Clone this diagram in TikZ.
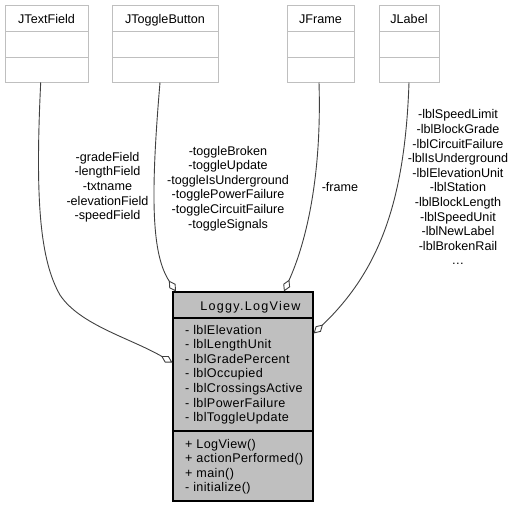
\documentclass[tikz,border=0pt]{standalone}
\usepackage{fontspec}
\setmainfont{Liberation Sans}
\newfontfamily\titlefont[LetterSpace=10]{Liberation Sans}
\newfontfamily\memberfont[LetterSpace=3]{Liberation Sans}
\usetikzlibrary{arrows.meta}
\definecolor{boxgray}{HTML}{BFBFBF}
\definecolor{edgegray}{HTML}{404040}
\begin{document}
\begin{tikzpicture}[x=1pt,y=-1pt,
  font=\fontsize{12.6}{14.6}\selectfont,
  basebox/.style={draw=boxgray, fill=white, line width=1pt, inner sep=0pt},
  mainbox/.style={draw=black, fill=boxgray, line width=1.2pt, inner sep=0pt},
  txt/.style={inner sep=0pt, anchor=base},
  ltxt/.style={inner sep=0pt, anchor=base west, align=left, font=\memberfont\fontsize{12.6}{14.6}\selectfont},
  ctxt/.style={inner sep=0pt, anchor=base, align=center},
  agg/.style={draw=edgegray, line width=0.9pt, -{Diamond[fill=white,length=13pt,width=7.5pt]}}
]
\useasboundingbox (0,0) rectangle (515,507);
\fill[white] (0,0) rectangle (515,507);

% base classes
\node[basebox, minimum width=83pt, minimum height=26.5pt] (tfa) at (46.5,18.25) {};
\node[basebox, minimum width=83pt, minimum height=25.5pt] (tfb) at (46.5,44.25) {};
\node[basebox, minimum width=83pt, minimum height=25pt] (tfc) at (46.5,69.5) {};
\node[txt] (tft) at (46.5,23) {JTextField};

\node[basebox, minimum width=106pt, minimum height=26.5pt] (tba) at (165,18.25) {};
\node[basebox, minimum width=106pt, minimum height=25.5pt] (tbb) at (165,44.25) {};
\node[basebox, minimum width=106pt, minimum height=25pt] (tbc) at (165,69.5) {};
\node[txt] (tbt) at (165,23) {JToggleButton};

\node[basebox, minimum width=67pt, minimum height=26.5pt] (jfa) at (320.5,18.25) {};
\node[basebox, minimum width=67pt, minimum height=25.5pt] (jfb) at (320.5,44.25) {};
\node[basebox, minimum width=67pt, minimum height=25pt] (jfc) at (320.5,69.5) {};
\node[txt] (jft) at (320.5,23) {JFrame};

\node[basebox, minimum width=60pt, minimum height=26.5pt] (jla) at (409,18.25) {};
\node[basebox, minimum width=60pt, minimum height=25.5pt] (jlb) at (409,44.25) {};
\node[basebox, minimum width=60pt, minimum height=25pt] (jlc) at (409,69.5) {};
\node[txt] (jlt) at (409,23) {JLabel};

% main class
\node[mainbox, minimum width=140pt, minimum height=26pt] (mt) at (243,305) {};
\node[mainbox, minimum width=140pt, minimum height=113pt] (ma) at (243,374.5) {};
\node[mainbox, minimum width=140pt, minimum height=70pt] (mm) at (243,466) {};
\node[txt, font=\titlefont\fontsize{12.6}{14.6}\selectfont] (mtt) at (250.5,310) {Loggy.LogView};
\node[ltxt] (mat) at (185,421.6) {- lblElevation\\- lblLengthUnit\\- lblGradePercent\\- lblOccupied\\- lblCrossingsActive\\- lblPowerFailure\\- lblToggleUpdate};
\node[ltxt] (mmt) at (185,491.8) {+ LogView()\\+ actionPerformed()\\+ main()\\- initialize()};

% edges
\draw[agg] ([xshift=-5.8pt]tfc.south) .. controls (35,200) and (40,260) .. (60,295)
  .. controls (80,325) and (130,338) .. ([yshift=12pt]ma.west);
\draw[agg] ([xshift=-5pt]tbc.south) .. controls (150,200) and (152,255) .. ([xshift=-67pt]mt.north);
\draw[agg] ([xshift=-1.5pt]jfc.south) .. controls (322,180) and (305,245) .. ([xshift=41pt]mt.north);
\draw[agg] (jlc.south) .. controls (405,200) and (380,270) .. ([yshift=41pt]ma.east);

% labels
\node[ctxt] (l1) at (107.5,219.7) {-gradeField\\-lengthField\\-txtname\\-elevationField\\-speedField};
\node[ctxt] (l2) at (228,228) {-toggleBroken\\-toggleUpdate\\-toggleIsUnderground\\-togglePowerFailure\\-toggleCircuitFailure\\-toggleSignals};
\node[ctxt] (l3) at (340,191) {-frame};
\node[ctxt] (l4) at (458,264.8) {-lblSpeedLimit\\-lblBlockGrade\\-lblCircuitFailure\\-lblIsUnderground\\-lblElevationUnit\\-lblStation\\-lblBlockLength\\-lblSpeedUnit\\-lblNewLabel\\-lblBrokenRail\\\dots};
\end{tikzpicture}
\end{document}
